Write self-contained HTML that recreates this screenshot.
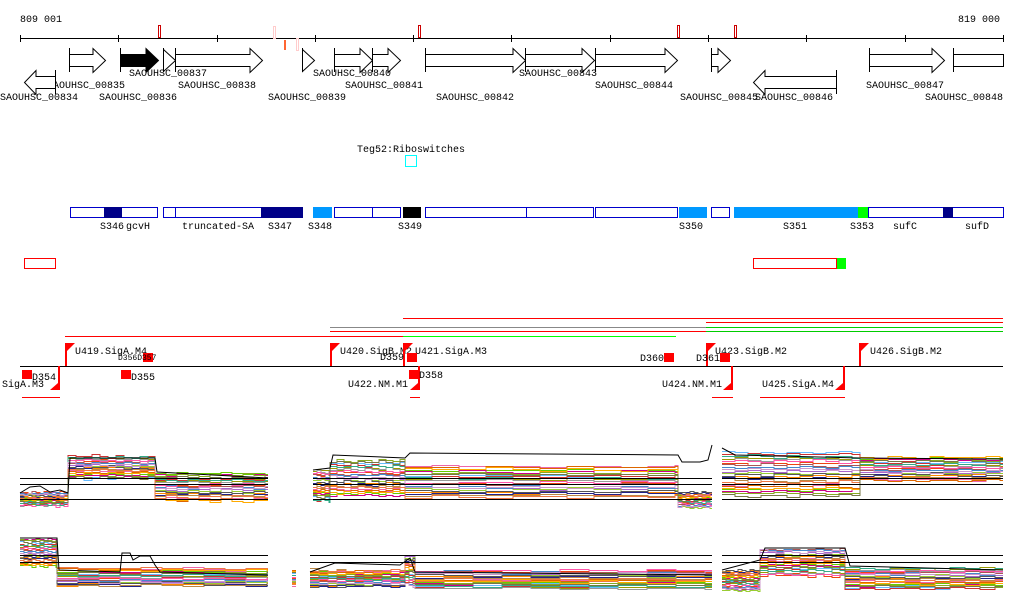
<!DOCTYPE html>
<html><head><meta charset="utf-8"><style>
body{margin:0;background:#fff;width:1024px;height:611px;overflow:hidden}
svg{display:block}
text{font-family:"Liberation Mono","DejaVu Sans Mono",monospace;font-size:10px;fill:#000}
</style></head><body>
<svg id="v" width="1024" height="611" viewBox="0 0 1024 611" xmlns="http://www.w3.org/2000/svg">
<g id="ruler">
<text x="20" y="22">809 001</text>
<text x="958" y="22">819 000</text>
<line x1="20" y1="38.5" x2="1003" y2="38.5" stroke="#000"/>
</g>
<g id="genes"></g>
<g id="segs">
<text x="357" y="152">Teg52:Riboswitches</text>
<rect x="405.5" y="155.5" width="11" height="11" fill="none" stroke="#0ff"/>
</g>
<g id="annot"></g>
<g id="prof"></g>
</svg>
<script>
const NS="http://www.w3.org/2000/svg";
function mk(p,t,a){const e=document.createElementNS(NS,t);for(const k in a)e.setAttribute(k,a[k]);p.appendChild(e);return e;}
const ruler=document.getElementById('ruler');
const tickX=[20,118,217,315,413,511,610,708,806,905,1003];
tickX.forEach(x=>{const t=mk(ruler,'line',{x1:x+.5,y1:35,x2:x+.5,y2:42,stroke:'#000'});

});
const marks=[[158,25,'#c00'],[418,25,'#c00'],[677,25,'#c00'],[734,25,'#c00'],[273,26,'#fcc'],[296,38,'#fcc']];
marks.forEach(m=>{const r=mk(ruler,'rect',{x:m[0]+.5,y:m[1]+.5,width:2,height:12,fill:'#fff',stroke:m[2]});

});
mk(ruler,'rect',{x:284,y:40,width:2,height:10,fill:'#f63'});

const genes=document.getElementById('genes');
const geneList=[
[69,105,1,'SAOUHSC_00835',47,88,'#fff'],[120,158,1,'SAOUHSC_00836',99,100,'#000'],
[163,175,1,'SAOUHSC_00837',129,76,'#fff'],[175,262,1,'SAOUHSC_00838',178,88,'#fff'],
[302,314,1,'SAOUHSC_00839',268,100,'#fff'],[334,372,1,'SAOUHSC_00840',313,76,'#fff'],
[372,400,1,'SAOUHSC_00841',345,88,'#fff'],[425,525,1,'SAOUHSC_00842',436,100,'#fff'],
[525,594,1,'SAOUHSC_00843',519,76,'#fff'],[595,677,1,'SAOUHSC_00844',595,88,'#fff'],
[711,730,1,'SAOUHSC_00845',680,100,'#fff'],[869,944,1,'SAOUHSC_00847',866,88,'#fff'],
[953,1003,0,'SAOUHSC_00848',925,100,'#fff'],
[24,55,-1,'SAOUHSC_00834',0,100,'#fff'],[753,836,-1,'SAOUHSC_00846',755,100,'#fff']];
geneList.forEach(g=>{
 const [s,e,st,lab,lx,ly,f]=g; let d;
 if(st===1){const h=Math.min(12,e-s),hx=e-h;
  if(e-s<=14) d=`M${s+.5},49.5L${e+.5},60.5L${s+.5},71.5Z`;
  else d=`M${s+.5},54.5H${hx}V48.5L${e+.5},60.5L${hx},72.5V66.5H${s+.5}Z`;
  mk(genes,'line',{x1:s+.5,y1:48,x2:s+.5,y2:72,stroke:'#000'});}
 else if(st===-1){const hx=s+12;d=`M${e+.5},76.5H${hx}V70.5L${s+.5},82.5L${hx},94.5V88.5H${e+.5}Z`;
  mk(genes,'line',{x1:e+.5,y1:70,x2:e+.5,y2:94,stroke:'#000'});}
 else {d=`M${s+.5},54.5H${e+.5}V66.5H${s+.5}Z`;mk(genes,'line',{x1:s+.5,y1:48,x2:s+.5,y2:72,stroke:'#000'});}
 const p=mk(genes,'path',{d:d,fill:f,stroke:'#000'});
 
 
 const t=mk(genes,'text',{x:lx,y:ly});t.textContent=lab;
 
 
});

const segs=document.getElementById('segs');
const segBoxes=[[70,157,'#fff'],[104,121,'#008'],[163,302,'#fff'],[163,175,'#fff'],[261,302,'#008'],[313,331,'#09f'],
[334,400,'#fff'],[334,372,'#fff'],[403,420,'#000'],[425,593,'#fff'],[425,526,'#fff'],[595,677,'#fff'],[679,706,'#09f'],
[711,729,'#fff'],[734,858,'#09f'],[858,868,'#0f0'],[868,1003,'#fff'],[943,952,'#008']];
segBoxes.forEach(b=>{const fill=b[2];const r=mk(segs,'rect',{x:b[0]+.5,y:207.5,width:b[1]-b[0],height:10,fill:fill,stroke:fill==='#fff'?'#00c':fill});

});
const segLabels=[['S346',100],['gcvH',126],['truncated-SA',182],['S347',268],['S348',308],['S349',398],['S350',679],['S351',783],['S353',850],['sufC',893],['sufD',965]];
segLabels.forEach(l=>{const t=mk(segs,'text',{x:l[1],y:229});t.textContent=l[0];

});
mk(segs,'rect',{x:24.5,y:258.5,width:31,height:10,fill:'#fff',stroke:'#f00'});
mk(segs,'rect',{x:753.5,y:258.5,width:83,height:10,fill:'#fff',stroke:'#f00'});
mk(segs,'rect',{x:837,y:258,width:9,height:11,fill:'#0f0'});

const an=document.getElementById('annot');
const hl=[[403,1003,318,'#f00'],[330,706,327,'#888'],[706,1003,322,'#f00'],[706,1003,327,'#0c0'],[706,1003,331,'#0c0'],[330,706,331,'#f00'],[65,403,336,'#f00'],[403,676,336,'#0f0'],[22,60,397,'#f00'],[410,420,397,'#f00'],[712,733,397,'#f00'],[760,845,397,'#f00']];
hl.forEach(h=>mk(an,'line',{x1:h[0],y1:h[2]+.5,x2:h[1],y2:h[2]+.5,stroke:h[3]}));
mk(an,'line',{x1:20,y1:366.5,x2:1003,y2:366.5,stroke:'#000'});
const upFlags=[[65,'U419.SigA.M4',75],[330,'U420.SigB.M2',340],[403,'U421.SigA.M3',415],[706,'U423.SigB.M2',715],[859,'U426.SigB.M2',870]];
upFlags.forEach(f=>{const p=mk(an,'path',{d:`M${f[0]},366V343H${f[0]+10}L${f[0]+2},351V366Z`,fill:'#f00'});


const t=mk(an,'text',{x:f[2],y:354});t.textContent=f[1];

});
const downFlags=[[60,'3.SigA.M3',-10],[420,'U422.NM.M1',348],[733,'U424.NM.M1',662],[845,'U425.SigA.M4',762]];
downFlags.forEach(f=>{const p=mk(an,'path',{d:`M${f[0]},366V390H${f[0]-10}L${f[0]-2},383V366Z`,fill:'#f00'});


const t=mk(an,'text',{x:f[2],y:387});t.textContent=f[1];

});
const dBoxes=[[22,370,'D354',32,380],[121,370,'D355',131,380],[143,353,'',0,0],[407,353,'D359',380,360],[409,370,'D358',419,378],[664,353,'D360',640,361],[720,353,'D361',696,361]];
dBoxes.forEach(b=>{const r=mk(an,'rect',{x:b[0],y:b[1],width:10,height:9,fill:'#f00'});


if(b[2]){const t=mk(an,'text',{x:b[3],y:b[4]});t.textContent=b[2];

}});
const tiny=mk(an,'text',{x:118,y:360,style:'font-size:8px'});tiny.textContent='D356D357';

const pr=document.getElementById('prof');
const colors=['#e41','#f80','#6c0','#990','#a6c','#e6a','#6bf','#a55','#228','#c08','#999','#9c3','#d60','#c33','#48c','#b84','#8a2','#f5a','#555','#fa0','#3a8','#c9c','#e74','#774'];
const upperPieces=[[20,68,492,505],[68,155,456,478],[155,268,473,500]];
const upperPieces2=[[313,330,470,500],[330,405,460,495],[405,678,466,496],[678,712,492,507]];
const upperPieces3=[[722,860,452,495],[860,1003,457,480]];
const lowerPieces=[[20,57,539,565],[57,268,568,585]];
const lowerPieces2=[[292,296,570,585]];
const lowerPieces3=[[310,405,570,586],[405,415,556,585],[415,712,570,588]];
const lowerPieces4=[[722,760,570,590],[760,845,549,575],[845,1003,568,588]];
const wobble=[0,1,0,0,-1,1,2,0,0,-1,0,1,0,-2,0,1,0,0,-1,2,1,0,-1,0,0,1,-1,0,2,0,-1];
const allBlocks=[upperPieces,upperPieces2,upperPieces3,lowerPieces,lowerPieces2,lowerPieces3,lowerPieces4];
const nLines=colors.length;
allBlocks.forEach((blk,bi)=>{
 for(let k=0;k<nLines;k++){
  let d='';
  blk.forEach((pc,pi)=>{
   const [x0,x1,top,bot]=pc;const frac=((k*7+bi*3+pi*5)%nLines)/(nLines-1);
   const y=top+(bot-top)*frac;
   const step=Math.max(4,Math.floor((x1-x0)/10));
   for(let x=x0,j=0;x<x1;x+=step,j++){
    const yy=Math.round(y+wobble[(j*3+k*5+pi)%wobble.length])+.5;
    d+=(d?'L':'M')+x+','+yy+'H'+Math.min(x+step,x1);}
  });
  const p=mk(pr,'path',{d:d,fill:'none',stroke:colors[k],'stroke-width':1});
  
  
 }
});
const refLines=[[20,268,478],[20,268,484],[20,268,499],[313,712,478],[313,712,484],[313,712,499],[722,1003,478],[722,1003,484],[722,1003,499],
[20,268,555],[20,268,562],[310,712,555],[310,712,562],[722,1003,555],[722,1003,562]];
refLines.forEach(r=>{const l=mk(pr,'line',{x1:r[0],y1:r[2]+.5,x2:r[1],y2:r[2]+.5,stroke:'#000'});

});
const blkTop=[['20,493 30,487 40,486 50,492 60,490 68,493 70,458 155,458 157,472 268,478'],['313,470 330,468 333,455 405,458 410,453 678,455 682,462 700,462 708,460 712,445'],['722,448 735,455 860,458 1003,459'],['20,538 57,538 59,570 120,572 122,553 130,553 133,560 140,556 150,556 155,565 160,572 268,575'],['310,572 335,563 400,565 410,558 415,572 712,575'],['722,570 760,560 765,548 845,548 850,566 1003,570']];
blkTop.forEach(b=>{const p=mk(pr,'polyline',{points:b[0],fill:'none',stroke:'#000'});

});
</script>
</body></html>
